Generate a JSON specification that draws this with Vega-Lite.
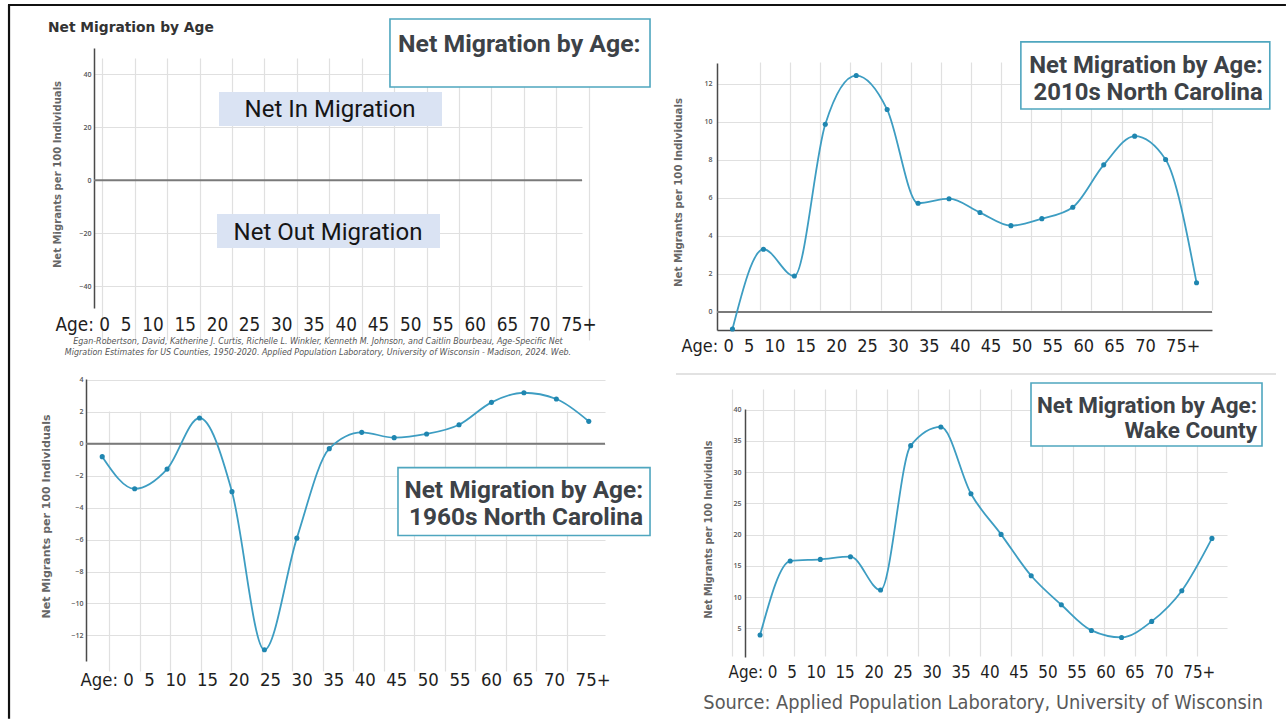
{
  "$schema": "https://vega.github.io/schema/vega-lite/v6.json",
  "background": "white",
  "width": 1286,
  "height": 719,
  "autosize": {"type": "none"},
  "padding": 0,
  "datasets": {
    "nc2010": [
      {"age": 0, "value": -0.9}, {"age": 5, "value": 3.3}, {"age": 10, "value": 1.89}, {"age": 15, "value": 9.88},
      {"age": 20, "value": 12.44}, {"age": 25, "value": 10.65}, {"age": 30, "value": 5.72}, {"age": 35, "value": 5.96},
      {"age": 40, "value": 5.23}, {"age": 45, "value": 4.54}, {"age": 50, "value": 4.91}, {"age": 55, "value": 5.51},
      {"age": 60, "value": 7.74}, {"age": 65, "value": 9.25}, {"age": 70, "value": 8.02}, {"age": 75, "value": 1.54}
    ],
    "nc1960": [
      {"age": 0, "value": -0.81}, {"age": 5, "value": -2.82}, {"age": 10, "value": -1.59}, {"age": 15, "value": 1.61},
      {"age": 20, "value": -3.0}, {"age": 25, "value": -12.9}, {"age": 30, "value": -5.91}, {"age": 35, "value": -0.31},
      {"age": 40, "value": 0.71}, {"age": 45, "value": 0.38}, {"age": 50, "value": 0.61}, {"age": 55, "value": 1.19},
      {"age": 60, "value": 2.59}, {"age": 65, "value": 3.19}, {"age": 70, "value": 2.8}, {"age": 75, "value": 1.4}
    ],
    "wake": [
      {"age": 0, "value": 3.93}, {"age": 5, "value": 15.77}, {"age": 10, "value": 16.04}, {"age": 15, "value": 16.47},
      {"age": 20, "value": 11.13}, {"age": 25, "value": 34.24}, {"age": 30, "value": 37.23}, {"age": 35, "value": 26.55},
      {"age": 40, "value": 20.04}, {"age": 45, "value": 13.42}, {"age": 50, "value": 8.78}, {"age": 55, "value": 4.67},
      {"age": 60, "value": 3.55}, {"age": 65, "value": 6.12}, {"age": 70, "value": 11.03}, {"age": 75, "value": 19.4}
    ],
    "one": [{}]
  },
  "resolve": {"scale": {"x": "independent", "y": "independent"}, "axis": {"x": "independent", "y": "independent"}},
  "layer": [
    {
      "layer": [
        {
          "data": {"name": "one"},
          "mark": {"type": "rule", "color": "#7a7a7a", "strokeWidth": 2},
          "encoding": {
            "x": {"datum": -2.5, "type": "quantitative", "scale": {"domain": [-2.5, 77.5], "range": [94, 582], "nice": false, "zero": false},
              "axis": {"orient": "bottom", "offset": -411, "values": [0,5,10,15,20,25,30,35,40,45,50,55,60,65,70,75], "labels": false, "domain": false, "grid": true,
                "title": "Age:\u00a00\u00a0\u00a05\u00a0\u00a010\u00a0\u00a015\u00a0\u00a020\u00a0\u00a025\u00a0\u00a030\u00a0\u00a035\u00a0\u00a040\u00a0\u00a045\u00a0\u00a050\u00a0\u00a055\u00a0\u00a060\u00a0\u00a065\u00a0\u00a070\u00a0\u00a075+",
                "titleFontSize": 18.8, "titleX": 55, "titleY": 22}},
            "x2": {"datum": 77.5},
            "y": {"datum": 0, "type": "quantitative", "scale": {"domain": [-48.3, 50], "range": [308, 48], "nice": false, "zero": false},
              "axis": {"orient": "left", "offset": -94, "values": [-40, -20, 0, 20, 40], "grid": true, "labelPadding": 3, "title": "Net Migrants per 100 Individuals", "titleFontSize": 10.1, "titleX": -37, "titleY": 174}}
          }
        },
        {
          "data": {"name": "one"},
          "mark": {"type": "rule", "color": "#111111", "strokeWidth": 2.2},
          "encoding": {"x": {"datum": -16.43}, "y": {"datum": 66.26}, "y2": {"datum": -203.6}}
        },
        {
          "data": {"name": "one"},
          "mark": {"type": "rule", "color": "#111111", "strokeWidth": 2.2},
          "encoding": {"x": {"datum": -16.6}, "x2": {"datum": 192.9}, "y": {"datum": 66.26}}
        },
        {
          "data": {"name": "one"},
          "mark": {"type": "text", "text": "Net Migration by Age", "font": "DejaVu Sans", "fontSize": 13.8, "fontWeight": "bold", "color": "#333333", "align": "left", "baseline": "middle"},
          "encoding": {"x": {"datum": -10.04}, "y": {"datum": 57.6}}
        },
        {
          "data": {"name": "one"},
          "mark": {"type": "rect", "fill": "#dae3f3"},
          "encoding": {"x": {"datum": 17.99}, "x2": {"datum": 54.55}, "y": {"datum": 33.36}, "y2": {"datum": 20.51}}
        },
        {
          "data": {"name": "one"},
          "mark": {"type": "text", "text": "Net In Migration", "font": "Roboto", "fontSize": 24, "color": "#151515", "align": "center", "baseline": "middle"},
          "encoding": {"x": {"datum": 36.2}, "y": {"datum": 26.6}}
        },
        {
          "data": {"name": "one"},
          "mark": {"type": "rect", "fill": "#dae3f3"},
          "encoding": {"x": {"datum": 17.66}, "x2": {"datum": 54.22}, "y": {"datum": -12.76}, "y2": {"datum": -25.61}}
        },
        {
          "data": {"name": "one"},
          "mark": {"type": "text", "text": "Net Out Migration", "font": "Roboto", "fontSize": 24, "color": "#151515", "align": "center", "baseline": "middle"},
          "encoding": {"x": {"datum": 35.86}, "y": {"datum": -19.9}}
        },
        {
          "data": {"name": "one"},
          "mark": {"type": "rect", "fill": "white", "stroke": "#4fa6bf", "strokeWidth": 1.6},
          "encoding": {"x": {"datum": 46.02}, "x2": {"datum": 88.65}, "y": {"datum": 60.96}, "y2": {"datum": 35.25}}
        },
        {
          "data": {"name": "one"},
          "mark": {"type": "text", "text": "Net Migration by Age:", "font": "Roboto", "fontSize": 24.8, "fontWeight": "bold", "color": "#3d4247", "align": "left", "baseline": "middle"},
          "encoding": {"x": {"datum": 47.34}, "y": {"datum": 51.3}}
        },
        {
          "data": {"name": "one"},
          "mark": {"type": "text", "text": ["Egan-Robertson, David, Katherine J. Curtis, Richelle L. Winkler, Kenneth M. Johnson, and Caitlin Bourbeau, Age-Specific Net", "Migration Estimates for US Counties, 1950-2020. Applied Population Laboratory, University of Wisconsin - Madison, 2024. Web."],
            "font": "DejaVu Sans Condensed", "fontStyle": "italic", "fontSize": 8.85, "lineHeight": 11, "color": "#555555", "align": "center", "baseline": "middle"},
          "encoding": {"x": {"datum": 34.22}, "y": {"datum": -60.8}}
        }
      ]
    },
    {
      "layer": [
        {
          "data": {"name": "one"},
          "mark": {"type": "rule", "color": "#7a7a7a", "strokeWidth": 2},
          "encoding": {
            "x": {"datum": -2.5, "type": "quantitative", "scale": {"domain": [-2.5, 77.5], "range": [86, 605], "nice": false, "zero": false},
              "axis": {"orient": "bottom", "offset": -58, "values": [0,5,10,15,20,25,30,35,40,45,50,55,60,65,70,75], "labels": false, "domain": false, "grid": true,
                "title": "Age:\u00a00\u00a0\u00a05\u00a0\u00a010\u00a0\u00a015\u00a0\u00a020\u00a0\u00a025\u00a0\u00a030\u00a0\u00a035\u00a0\u00a040\u00a0\u00a045\u00a0\u00a050\u00a0\u00a055\u00a0\u00a060\u00a0\u00a065\u00a0\u00a070\u00a0\u00a075+",
                "titleFontSize": 18.4, "titleX": 80, "titleY": 24}},
            "x2": {"datum": 77.5},
            "y": {"datum": 0, "type": "quantitative", "scale": {"domain": [-13.6, 4.05], "range": [661, 379], "nice": false, "zero": false},
              "axis": {"orient": "left", "offset": -86, "values": [-12, -10, -8, -6, -4, -2, 0, 2, 4], "grid": true, "labelPadding": 3, "title": "Net Migrants per 100 Individuals", "titleFontSize": 11, "titleX": -40, "titleY": 516}}
          }
        },
        {
          "data": {"name": "nc1960"},
          "mark": {"type": "line", "interpolate": "monotone", "color": "#3d9dc2", "strokeWidth": 1.8},
          "encoding": {"x": {"field": "age", "type": "quantitative"}, "y": {"field": "value", "type": "quantitative"}}
        },
        {
          "data": {"name": "nc1960"},
          "mark": {"type": "circle", "color": "#1f86b0", "size": 26, "opacity": 1},
          "encoding": {"x": {"field": "age", "type": "quantitative"}, "y": {"field": "value", "type": "quantitative"}}
        },
        {
          "data": {"name": "one"},
          "mark": {"type": "rect", "fill": "white", "stroke": "#4fa6bf", "strokeWidth": 1.6},
          "encoding": {"x": {"datum": 45.59}, "x2": {"datum": 84.44}, "y": {"datum": -1.494}, "y2": {"datum": -5.744}}
        },
        {
          "data": {"name": "one"},
          "mark": {"type": "text", "text": ["Net Migration by Age:", "1960s North Carolina"], "font": "Roboto", "fontSize": 24.4, "fontWeight": "bold", "lineHeight": 27, "color": "#3d4247", "align": "right", "baseline": "middle"},
          "encoding": {"x": {"datum": 83.36}, "y": {"datum": -2.99}}
        }
      ]
    },
    {
      "layer": [
        {
          "data": {"name": "one"},
          "mark": {"type": "rule", "color": "#7a7a7a", "strokeWidth": 2},
          "encoding": {
            "x": {"datum": -2.5, "type": "quantitative", "scale": {"domain": [-2.5, 77.5], "range": [717, 1212], "nice": false, "zero": false},
              "axis": {"orient": "bottom", "offset": -389, "values": [0,5,10,15,20,25,30,35,40,45,50,55,60,65,70,75], "labels": false, "domain": true, "grid": true,
                "title": "Age:\u00a00\u00a0\u00a05\u00a0\u00a010\u00a0\u00a015\u00a0\u00a020\u00a0\u00a025\u00a0\u00a030\u00a0\u00a035\u00a0\u00a040\u00a0\u00a045\u00a0\u00a050\u00a0\u00a055\u00a0\u00a060\u00a0\u00a065\u00a0\u00a070\u00a0\u00a075+",
                "titleFontSize": 18.0, "titleX": 681, "titleY": 21}},
            "x2": {"datum": 77.5},
            "y": {"datum": 0, "type": "quantitative", "scale": {"domain": [-0.95, 13.1], "range": [330, 63], "nice": false, "zero": false},
              "axis": {"orient": "left", "offset": -717, "values": [0, 2, 4, 6, 8, 10, 12], "grid": true, "labelPadding": 5, "title": "Net Migrants per 100 Individuals", "titleFontSize": 10.2, "titleX": -39, "titleY": 192}}
          }
        },
        {
          "data": {"name": "nc2010"},
          "mark": {"type": "line", "interpolate": "monotone", "color": "#3d9dc2", "strokeWidth": 1.8},
          "encoding": {"x": {"field": "age", "type": "quantitative"}, "y": {"field": "value", "type": "quantitative"}}
        },
        {
          "data": {"name": "nc2010"},
          "mark": {"type": "circle", "color": "#1f86b0", "size": 26, "opacity": 1},
          "encoding": {"x": {"field": "age", "type": "quantitative"}, "y": {"field": "value", "type": "quantitative"}}
        },
        {
          "data": {"name": "one"},
          "mark": {"type": "rect", "fill": "white", "stroke": "#4fa6bf", "strokeWidth": 1.6},
          "encoding": {"x": {"datum": 46.61}, "x2": {"datum": 86.84}, "y": {"datum": 14.21}, "y2": {"datum": 10.68}}
        },
        {
          "data": {"name": "one"},
          "mark": {"type": "text", "text": ["Net Migration by Age:", "2010s North Carolina"], "font": "Roboto", "fontSize": 23.9, "fontWeight": "bold", "lineHeight": 27, "color": "#3d4247", "align": "right", "baseline": "middle"},
          "encoding": {"x": {"datum": 85.71}, "y": {"datum": 12.96}}
        }
      ]
    },
    {
      "layer": [
        {
          "data": {"name": "wake"},
          "mark": {"type": "line", "interpolate": "monotone", "color": "#3d9dc2", "strokeWidth": 1.8},
          "encoding": {
            "x": {"field": "age", "type": "quantitative", "scale": {"domain": [-2.5, 77.5], "range": [745, 1227], "nice": false, "zero": false},
              "axis": {"orient": "bottom", "offset": -62, "values": [0,5,10,15,20,25,30,35,40,45,50,55,60,65,70,75], "labels": false, "domain": false, "grid": true,
                "title": "Age:\u00a00\u00a0\u00a05\u00a0\u00a010\u00a0\u00a015\u00a0\u00a020\u00a0\u00a025\u00a0\u00a030\u00a0\u00a035\u00a0\u00a040\u00a0\u00a045\u00a0\u00a050\u00a0\u00a055\u00a0\u00a060\u00a0\u00a065\u00a0\u00a070\u00a0\u00a075+",
                "titleFontSize": 16.9, "titleX": 728, "titleY": 20}},
            "y": {"field": "value", "type": "quantitative", "scale": {"domain": [0.42, 40.1], "range": [657, 409], "nice": false, "zero": false},
              "axis": {"orient": "left", "offset": -745, "values": [5, 10, 15, 20, 25, 30, 35, 40], "grid": true, "labelPadding": 4, "title": "Net Migrants per 100 Individuals", "titleFontSize": 9.6, "titleX": -37, "titleY": 529}}
          }
        },
        {
          "data": {"name": "wake"},
          "mark": {"type": "circle", "color": "#1f86b0", "size": 26, "opacity": 1},
          "encoding": {"x": {"field": "age", "type": "quantitative"}, "y": {"field": "value", "type": "quantitative"}}
        },
        {
          "data": {"name": "one"},
          "mark": {"type": "rule", "color": "#e2e2e2", "strokeWidth": 2},
          "encoding": {"x": {"datum": -13.95}, "x2": {"datum": 85.63}, "y": {"datum": 45.7}}
        },
        {
          "data": {"name": "one"},
          "mark": {"type": "rect", "fill": "white", "stroke": "#4fa6bf", "strokeWidth": 1.6},
          "encoding": {"x": {"datum": 44.97}, "x2": {"datum": 83.31}, "y": {"datum": 44.26}, "y2": {"datum": 34.18}}
        },
        {
          "data": {"name": "one"},
          "mark": {"type": "text", "text": ["Net Migration by Age:", "Wake County"], "font": "Roboto", "fontSize": 22.5, "fontWeight": "bold", "lineHeight": 25, "color": "#3d4247", "align": "right", "baseline": "middle"},
          "encoding": {"x": {"datum": 82.48}, "y": {"datum": 40.61}}
        },
        {
          "data": {"name": "one"},
          "mark": {"type": "text", "text": "Source: Applied Population Laboratory, University of Wisconsin", "font": "DejaVu Sans Condensed", "fontSize": 19.8, "color": "#595959", "align": "right", "baseline": "middle"},
          "encoding": {"x": {"datum": 83.47}, "y": {"datum": -6.94}}
        }
      ]
    }
  ],
  "config": {
    "view": {"stroke": null},
    "axisX": {
      "titleFont": "DejaVu Sans Condensed",
      "titleFontWeight": "normal",
      "titleColor": "#1e1e1e",
      "titleAnchor": "start",
      "titleAlign": "left",
      "titleBaseline": "alphabetic"
    },
    "axisY": {
      "titleFont": "DejaVu Sans",
      "titleFontWeight": "bold",
      "titleColor": "#666666",
      "titleBaseline": "middle",
      "titleAlign": "center"
    },
    "axis": {
      "gridColor": "#e0e0e0",
      "gridWidth": 1.2,
      "ticks": false,
      "domainColor": "#4a4a4a",
      "domainWidth": 1.5,
      "labelFont": "Open Sans",
      "labelFontSize": 7,
      "labelFontWeight": 600,
      "labelColor": "#555555"
    }
  }
}
